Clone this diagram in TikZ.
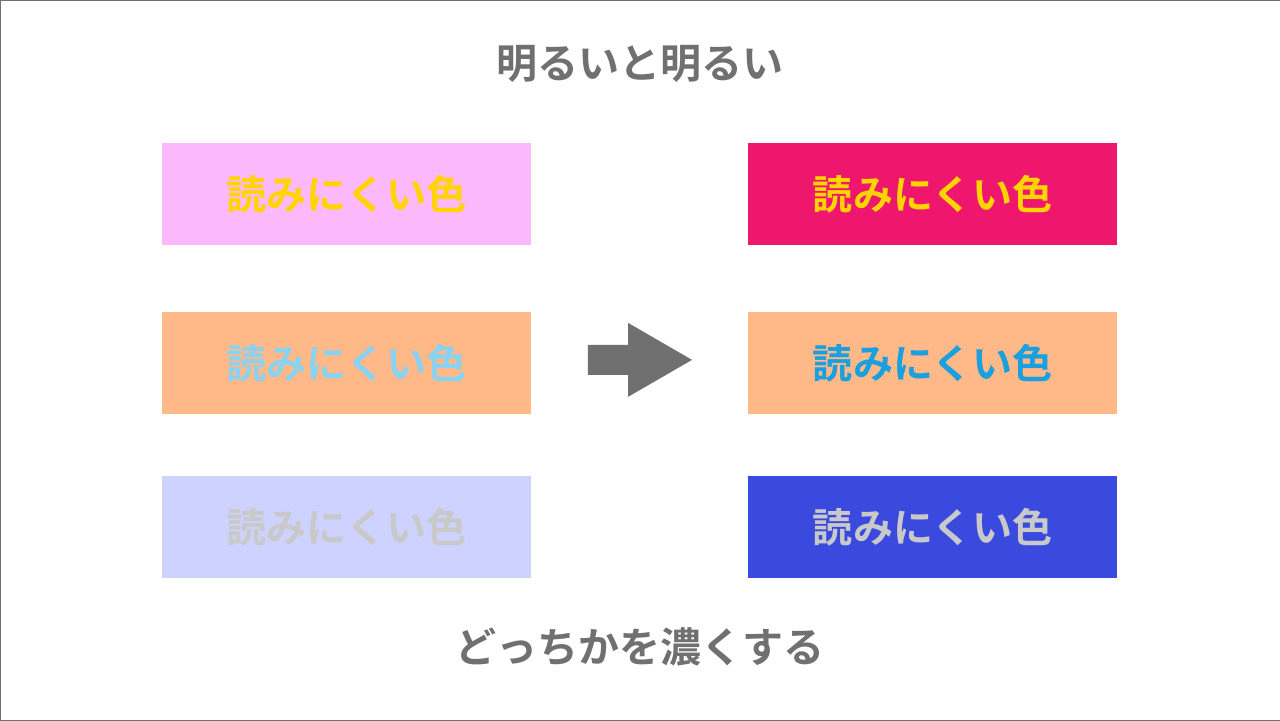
\documentclass[tikz,border=0pt]{standalone}
\usepackage{fontspec}
\newfontfamily\cjk{Noto Sans CJK JP Bold}
\definecolor{tgray}{HTML}{707070}
\definecolor{pinkb}{HTML}{FBB8FB}
\definecolor{orab}{HTML}{FFB888}
\definecolor{lavb}{HTML}{CDD2FF}
\definecolor{magb}{HTML}{EF166D}
\definecolor{blub}{HTML}{3A4ADF}
\definecolor{yel}{HTML}{FFD400}
\definecolor{lblue}{HTML}{8AD2F0}
\definecolor{dblue}{HTML}{1AA0DF}
\definecolor{lgray}{HTML}{C9C9C9}
\begin{document}
\begin{tikzpicture}[x=1pt,y=-1pt,
  box/.style={minimum width=369pt,minimum height=102pt,inner sep=0pt,font=\cjk\fontsize{40}{44}\selectfont},
  ttl/.style={text=tgray,font=\cjk\fontsize{41}{46}\selectfont}]
\draw[fill=white,draw=tgray] (0.5,0.5) rectangle (1279.5,720.5);
\node[ttl] (t) at (640,64) {明るいと明るい};
\node[ttl] (b) at (640,647) {どっちかを濃くする};
\node[box,fill=pinkb,text=yel] (l1) at (346.5,194) {読みにくい色};
\node[box,fill=orab,text=lblue] (l2) at (346.5,363) {読みにくい色};
\node[box,fill=lavb,text=lgray] (l3) at (346.5,527) {読みにくい色};
\node[box,fill=magb,text=yel] (r1) at (932.5,194) {読みにくい色};
\node[box,fill=orab,text=dblue] (r2) at (932.5,363) {読みにくい色};
\node[box,fill=blub,text=lgray] (r3) at (932.5,527) {読みにくい色};
\fill[tgray] (588,345) -- (628,345) -- (628,323) -- (692,360) -- (628,397) -- (628,375) -- (588,375) -- cycle;
\end{tikzpicture}
\end{document}
